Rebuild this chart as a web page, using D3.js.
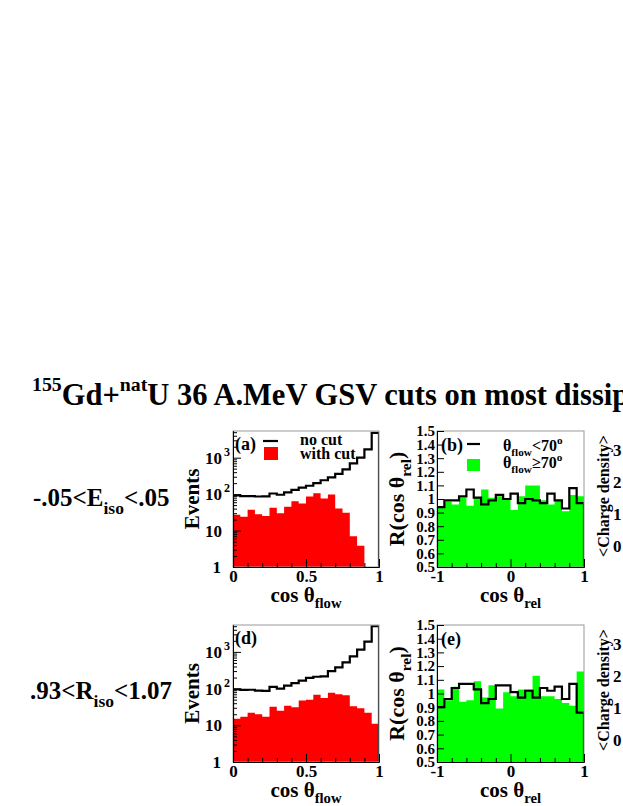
<!DOCTYPE html>
<html><head><meta charset="utf-8">
<script src="https://cdn.jsdelivr.net/npm/d3@7"></script>
<style>
body{margin:0;background:#fff}
svg{display:block}
text{font-family:"Liberation Serif","Times New Roman",serif;font-weight:bold;fill:#000}
</style>
</head><body>
<svg id="c" width="623" height="806"></svg>
<script>
// ---------------- data ----------------
const flowEdges = [0,0.05,0.1,0.15,0.2,0.25,0.3,0.35,0.4,0.45,0.5,0.55,0.6,0.65,0.7,0.75,0.8,0.85,0.9,0.95,1];
const relEdges = [-1,-0.9,-0.8,-0.7,-0.6,-0.5,-0.4,-0.3,-0.2,-0.1,0,0.1,0.2,0.3,0.4,0.5,0.6,0.7,0.8,0.9,1];
// panel (a): E_iso cut
const noCutA   = [92, 88, 88, 86, 87, 104, 96, 112, 130, 150, 170, 200, 240, 290, 360, 480, 700, 1000, 1700, 4800];
const withCutA = [27, 24, 37, 28, 25, 42, 30, 45, 64, 55, 86, 105, 76, 98, 40, 31, 7, 3.8, 0, 0];
// panel (d): R_iso cut
const noCutD   = [95, 92, 93, 88, 87, 112, 100, 120, 140, 165, 195, 210, 215, 300, 380, 520, 750, 1150, 1900, 5000];
const withCutD = [15, 17, 22, 20, 17, 32, 25, 34, 31, 47, 50, 68, 55, 77, 70, 66, 33, 29, 22, 11];
// panel (b)
const relLowB  = [0.94, 0.99, 0.99, 1.02, 1.07, 1.01, 0.96, 0.99, 1.03, 1.00, 1.04, 0.97, 1.00, 0.99, 0.97, 1.04, 0.99, 0.93, 1.08, 0.97];
const relHighB = [0.94, 0.98, 0.96, 1.01, 0.95, 1.01, 1.07, 1.01, 1.02, 1.00, 0.92, 1.02, 1.10, 1.10, 0.99, 0.96, 0.99, 0.91, 1.03, 1.02];
// panel (e)
const relLowE  = [0.90, 0.96, 1.04, 1.07, 1.07, 1.03, 0.93, 0.96, 1.06, 1.06, 1.01, 0.97, 1.02, 0.97, 1.04, 1.02, 1.05, 0.96, 1.07, 0.86];
const relHighE = [1.03, 0.95, 1.05, 0.94, 0.95, 1.09, 0.97, 1.06, 0.89, 1.01, 0.98, 1.03, 1.03, 1.13, 0.98, 0.98, 0.96, 0.93, 0.91, 1.16];
// ticks
const logMajor = [1, 10, 100, 1000];
const logMinor = [2,3,4,5,6,7,8,9,20,30,40,50,60,70,80,90,200,300,400,500,600,700,800,900,2000,3000,4000,5000];
const flowMajor = [0, 0.5, 1];
const flowMinor = [0.1,0.2,0.3,0.4,0.6,0.7,0.8,0.9];
const rTicks = [0.5,0.6,0.7,0.8,0.9,1,1.1,1.2,1.3,1.4,1.5];
const relMajor = [-1, 0, 1];
const relMinor = [-0.8,-0.6,-0.4,-0.2,0.2,0.4,0.6,0.8];
const chargeTicks = ["3","2","1","0"];

// ---------------- helpers ----------------
const svg = d3.select("#c");
svg.append("rect").attr("width",623).attr("height",806).attr("fill","#fff");

function rich(sel, x, y, parts, size, anchor, rot){
  const t = sel.append("text").attr("x",x).attr("y",y).attr("font-size",size)
    .attr("text-anchor",anchor||"start");
  if (rot) t.attr("transform",`rotate(${rot},${x},${y})`);
  let cur = 0;
  parts.forEach(p=>{
    const off = p.sub ? 0.3*size : (p.sup ? -0.45*size : 0);
    const ts = t.append("tspan").text(p.t).attr("dy", off-cur);
    if (p.sub || p.sup) ts.attr("font-size", (p.k||0.7)*size);
    cur = off;
  });
  return t;
}

function histPath(edges, vals, x, y, base){
  const p = d3.path();
  p.moveTo(x(edges[0]), base);
  vals.forEach((v,i)=>{
    const yy = v>0 ? y(v) : base;
    p.lineTo(x(edges[i]), yy);
    p.lineTo(x(edges[i+1]), yy);
  });
  p.lineTo(x(edges[edges.length-1]), base);
  return p.toString();
}

let clipId = 0;
function frameClip(box){
  const id = "clip"+(clipId++);
  svg.append("clipPath").attr("id",id).append("rect")
    .attr("x",box.x0).attr("y",box.y0).attr("width",box.x1-box.x0).attr("height",box.y1-box.y0);
  return "url(#"+id+")";
}

function styleAxis(g, color){
  g.selectAll("path.domain").attr("stroke",color||"#000");
  g.selectAll(".tick line").attr("stroke","#000");
  g.selectAll("text").remove();
}

// ---------------- flow panels ----------------
function flowPanel(box, noCut, withCut, tag){
  const x = d3.scaleLinear().domain([0,1]).range([box.x0, box.x1]);
  const y = d3.scaleLog().domain([1,5400]).range([box.y1, box.y0]);
  const clip = frameClip(box);
  const g = svg.append("g");
  g.append("path").attr("d", histPath(flowEdges, withCut, x, y, box.y1))
    .attr("fill","#ff0000").attr("stroke","none").attr("clip-path",clip);
  g.append("path").attr("d", histPath(flowEdges, noCut, x, y, box.y1))
    .attr("fill","none").attr("stroke","#000").attr("stroke-width",2.2).attr("clip-path",clip);
  // frame
  g.append("rect").attr("x",box.x0).attr("y",box.y0).attr("width",box.x1-box.x0).attr("height",box.y1-box.y0)
    .attr("fill","none").attr("stroke","#999").attr("stroke-width",1);
  // axes
  const ax1 = g.append("g").attr("transform",`translate(${box.x0},0)`)
    .call(d3.axisLeft(y).tickValues(logMajor).tickSize(-8).tickSizeOuter(0).tickFormat(""));
  styleAxis(ax1);
  const ax2 = g.append("g").attr("transform",`translate(${box.x0},0)`)
    .call(d3.axisLeft(y).tickValues(logMinor).tickSize(-4).tickSizeOuter(0).tickFormat(""));
  styleAxis(ax2);
  const bx1 = g.append("g").attr("transform",`translate(0,${box.y1})`)
    .call(d3.axisBottom(x).tickValues(flowMajor).tickSize(-8).tickSizeOuter(0).tickPadding(3)
      .tickFormat(d=> d===0.5 ? "0.5" : String(d)));
  bx1.selectAll("path.domain").attr("stroke","#000");
  bx1.selectAll(".tick line").attr("stroke","#000");
  bx1.selectAll("text").attr("font-size",17).attr("fill","#000")
    .attr("font-family",'"Liberation Serif","Times New Roman",serif').attr("font-weight","bold");
  const bx2 = g.append("g").attr("transform",`translate(0,${box.y1})`)
    .call(d3.axisBottom(x).tickValues(flowMinor).tickSize(-4).tickSizeOuter(0).tickFormat(""));
  styleAxis(bx2);
  // log labels
  logMajor.forEach((v,i)=>{
    const yy = y(v) + 6;
    if (i===0){
      g.append("text").attr("x",box.x0-12).attr("y",yy).attr("font-size",17).attr("text-anchor","end").text("1");
    } else if (i===1){
      g.append("text").attr("x",box.x0-11).attr("y",yy).attr("font-size",17).attr("text-anchor","end").text("10");
    } else {
      g.append("text").attr("x",box.x0-11).attr("y",yy).attr("font-size",17).attr("text-anchor","end").text("10");
      g.append("text").attr("x",box.x0-9).attr("y",yy-8).attr("font-size",12).text(String(i));
    }
  });
  // axis titles
  rich(g, (box.x0+box.x1)/2, box.y1+35, [{t:"cos θ"},{t:"flow",sub:true}], 21, "middle");
  rich(g, box.x0-34, (box.y0+box.y1)/2, [{t:"Events"}], 21, "middle", -90);
  g.append("text").attr("x",box.x0+2).attr("y",box.y0+19).attr("font-size",18).text(tag);
  return {x,y,g};
}

// ---------------- relative angle panels ----------------
function relPanel(box, lowVals, highVals, tag){
  const x = d3.scaleLinear().domain([-1,1]).range([box.x0, box.x1]);
  const y = d3.scaleLinear().domain([0.5,1.5]).range([box.y1, box.y0]);
  const clip = frameClip(box);
  const g = svg.append("g");
  g.append("path").attr("d", histPath(relEdges, highVals, x, y, box.y1))
    .attr("fill","#00ff00").attr("stroke","none").attr("clip-path",clip);
  g.append("path").attr("d", histPath(relEdges, lowVals, x, y, box.y1))
    .attr("fill","none").attr("stroke","#000").attr("stroke-width",2.2).attr("clip-path",clip);
  g.append("rect").attr("x",box.x0).attr("y",box.y0).attr("width",box.x1-box.x0).attr("height",box.y1-box.y0)
    .attr("fill","none").attr("stroke","#999").attr("stroke-width",1);
  const ay = g.append("g").attr("transform",`translate(${box.x0},0)`)
    .call(d3.axisLeft(y).tickValues(rTicks).tickSize(-7).tickSizeOuter(0).tickPadding(2)
      .tickFormat(d=> d===1 ? "1" : d3.format(".1f")(d)));
  ay.selectAll("path.domain").attr("stroke","#000");
  ay.selectAll(".tick line").attr("stroke","#000");
  ay.selectAll("text").attr("font-size",15).attr("fill","#000")
    .attr("font-family",'"Liberation Serif","Times New Roman",serif').attr("font-weight","bold");
  const bx1 = g.append("g").attr("transform",`translate(0,${box.y1})`)
    .call(d3.axisBottom(x).tickValues(relMajor).tickSize(-8).tickSizeOuter(0).tickPadding(3)
      .tickFormat(d=> d<0 ? "-"+Math.abs(d) : String(d)));
  bx1.selectAll("path.domain").attr("stroke","#000");
  bx1.selectAll(".tick line").attr("stroke","#000");
  bx1.selectAll("text").attr("font-size",17).attr("fill","#000")
    .attr("font-family",'"Liberation Serif","Times New Roman",serif').attr("font-weight","bold");
  const bx2 = g.append("g").attr("transform",`translate(0,${box.y1})`)
    .call(d3.axisBottom(x).tickValues(relMinor).tickSize(-4).tickSizeOuter(0).tickFormat(""));
  styleAxis(bx2);
  rich(g, (box.x0+box.x1)/2, box.y1+35, [{t:"cos θ"},{t:"rel",sub:true}], 21, "middle");
  rich(g, box.x0-33, (box.y0+box.y1)/2, [{t:"R(cos θ"},{t:"rel",sub:true},{t:")"}], 22, "middle", -90);
  g.append("text").attr("x",box.x0+4).attr("y",box.y0+20).attr("font-size",18).text(tag);
  return {x,y,g};
}

const boxA = {x0:233, x1:379, y0:431, y1:567};
const boxB = {x0:437, x1:584, y0:431, y1:567};
const boxD = {x0:233, x1:379, y0:625, y1:762};
const boxE = {x0:437, x1:584, y0:625, y1:762};

flowPanel(boxA, noCutA, withCutA, "(a)");
flowPanel(boxD, noCutD, withCutD, "(d)");
relPanel(boxB, relLowB, relHighB, "(b)");
relPanel(boxE, relLowE, relHighE, "(e)");

// legend (a)
svg.append("line").attr("x1",263).attr("x2",278).attr("y1",441).attr("y2",441).attr("stroke","#000").attr("stroke-width",2.2);
svg.append("rect").attr("x",264).attr("y",447).attr("width",14).attr("height",13).attr("fill","#ff0000");
svg.append("text").attr("x",300).attr("y",445).attr("font-size",16).text("no cut");
svg.append("text").attr("x",300).attr("y",459).attr("font-size",16).text("with cut");
// legend (b)
svg.append("line").attr("x1",467).attr("x2",480).attr("y1",444).attr("y2",444).attr("stroke","#000").attr("stroke-width",2.2);
svg.append("rect").attr("x",467).attr("y",459).attr("width",13).attr("height",12).attr("fill","#00ff00");
rich(svg, 503, 451, [{t:"θ"},{t:"flow",sub:true},{t:"<70"},{t:"o",sup:true}], 16, "start");
rich(svg, 503, 468, [{t:"θ"},{t:"flow",sub:true},{t:"≥70"},{t:"o",sup:true}], 16, "start");

// title
rich(svg, 32, 405, [{t:"155",sup:true,k:0.65},{t:"Gd+"},{t:"nat",sup:true,k:0.65},{t:"U 36 A.MeV GSV cuts on most dissipative events"}], 30.5, "start");

// row labels
rich(svg, 33, 506, [{t:"-.05<E"},{t:"iso",sub:true},{t:"<.05"}], 25, "start");
rich(svg, 30, 699, [{t:".93<R"},{t:"iso",sub:true},{t:"<1.07"}], 25, "start");

// partially visible third column
[[496, [450,482,514,546]], [690, [644,676,708,740]]].forEach(([cy, ys])=>{
  rich(svg, 609, cy, [{t:"<Charge density>"}], 16, "middle", -90);
  chargeTicks.forEach((t,i)=>{
    svg.append("text").attr("x",613).attr("y",ys[i]+6).attr("font-size",17).text(t);
  });
});
</script>
</body></html>
